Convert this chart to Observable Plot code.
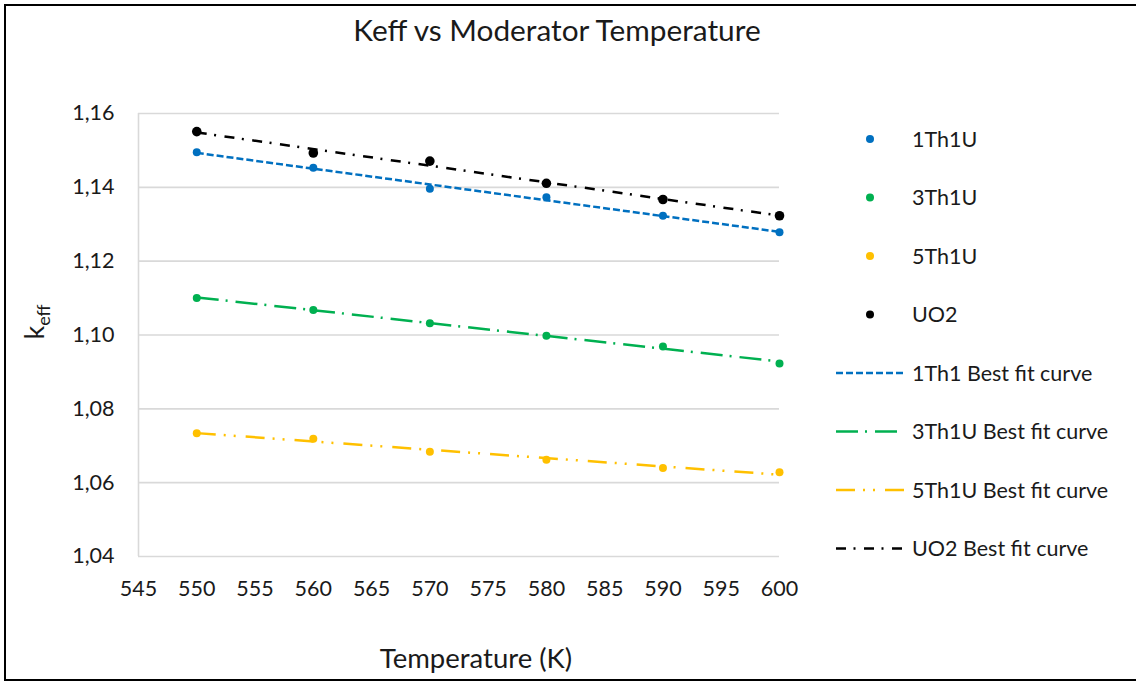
<!DOCTYPE html>
<html>
<head>
<meta charset="utf-8">
<script src="https://cdn.jsdelivr.net/npm/d3@7"></script>
<script src="https://cdn.jsdelivr.net/npm/@observablehq/plot@0.6"></script>
<style>
  html, body { margin: 0; padding: 0; background: #fff; overflow: hidden; }
  #wrap { position: relative; width: 1136px; height: 684px; overflow: hidden; }
  #frame { position: absolute; left: 4px; top: 4px; width: 1150px; height: 677px; border: 2px solid #000; box-sizing: border-box; pointer-events: none; }
</style>
</head>
<body>
<div id="wrap"><div id="frame"></div></div>
<script>
// ---- Data ----
const temps = [550, 560, 570, 580, 590, 600];
const k1Th1U = [1.1495, 1.1453, 1.1396, 1.1373, 1.1323, 1.1278];
const k3Th1U = [1.1100, 1.1068, 1.1032, 1.0998, 1.0969, 1.0923];
const k5Th1U = [1.0734, 1.0719, 1.0684, 1.0662, 1.0640, 1.0628];
const kUO2   = [1.1551, 1.1493, 1.1471, 1.1411, 1.1367, 1.1323];
const seriesNames = ["1Th1U", "3Th1U", "5Th1U", "UO2"];
const fitNames = ["1Th1 Best fit curve", "3Th1U Best fit curve", "5Th1U Best fit curve", "UO2 Best fit curve"];
const xTicks = [545, 550, 555, 560, 565, 570, 575, 580, 585, 590, 595, 600];
const yTicks = [1.04, 1.06, 1.08, 1.10, 1.12, 1.14, 1.16];
const titleText = "Keff vs Moderator Temperature";
const xLabel = "Temperature (K)";

// ---- Styles ----
const colors = ["#0070C0", "#00B050", "#FFC000", "#000000"];
const dashes = ["7,3", "22,7,2,8", "19,8,2,8,2,10", "10,7.5,2,8.5"];
const dotR = [4, 4, 4, 4.8];
const FONT = "Lato, 'Open Sans', sans-serif";

const values = [k1Th1U, k3Th1U, k5Th1U, kUO2];
const data = [];
seriesNames.forEach((s, i) => temps.forEach((t, j) => data.push({series: s, t, k: values[i][j]})));

const locale = d3.formatLocale({decimal: ",", thousands: ".", grouping: [3], currency: ["", ""]});
const fmt = locale.format(".2f");

const plot = Plot.plot({
  width: 1136,
  height: 684,
  marginLeft: 138,
  marginRight: 357,
  marginTop: 113,
  marginBottom: 128,
  style: {fontFamily: FONT, fontSize: "21.5px", color: "#1a1a1a", background: "transparent", overflow: "visible"},
  x: {domain: [545, 600]},
  y: {domain: [1.04, 1.16]},
  marks: [
    Plot.gridY(yTicks, {stroke: "#d9d9d9", strokeOpacity: 1, strokeWidth: 1.6}),
    Plot.ruleX([545], {stroke: "#d9d9d9", strokeWidth: 1.6}),
    Plot.axisX({ticks: xTicks, tickSize: 0, tickPadding: 24, label: null, fontSize: 21.5}),
    Plot.axisY({ticks: yTicks, tickSize: 0, tickPadding: 24, tickFormat: fmt, label: null, fontSize: 21.5}),
    ...seriesNames.map((s, i) => Plot.linearRegressionY(data.filter(d => d.series === s), {
      x: "t", y: "k", ci: 0, stroke: colors[i], strokeWidth: 2.5,
      strokeDasharray: dashes[i], strokeLinecap: "butt"
    })),
    ...seriesNames.map((s, i) => Plot.dot(data.filter(d => d.series === s), {
      x: "t", y: "k", r: dotR[i], fill: colors[i], stroke: "none"
    }))
  ]
});

document.getElementById("wrap").insertBefore(plot, document.getElementById("frame"));
plot.style.position = "absolute";
plot.style.left = "0px";
plot.style.top = "0px";

const svg = d3.select(plot);
const ann = svg.append("g").attr("font-family", FONT).attr("fill", "#1a1a1a");

// Title
ann.append("text").attr("x", 557).attr("y", 41).attr("text-anchor", "middle")
  .attr("font-size", 29.8).text(titleText);

// X axis title
ann.append("text").attr("x", 476).attr("y", 668).attr("text-anchor", "middle")
  .attr("font-size", 27.5).text(xLabel);

// Y axis title k_eff
const yt = ann.append("text").attr("transform", "translate(44,322) rotate(-90)")
  .attr("text-anchor", "middle").attr("font-size", 27);
yt.append("tspan").text("k");
yt.append("tspan").attr("font-size", 18).attr("dy", 6).text("eff");

// Legend
const rowY = i => 139 + i * 58.5;
seriesNames.forEach((s, i) => {
  ann.append("circle").attr("cx", 870).attr("cy", rowY(i)).attr("r", 4).attr("fill", colors[i]);
  ann.append("text").attr("x", 912).attr("y", rowY(i) + 7.5).attr("text-anchor", "start")
    .attr("font-size", 21.5).text(s);
});
fitNames.forEach((s, i) => {
  const y = rowY(i + 4);
  ann.append("line").attr("x1", 836).attr("x2", 904).attr("y1", y).attr("y2", y)
    .attr("stroke", colors[i]).attr("stroke-width", 2.5).attr("stroke-dasharray", dashes[i]);
  ann.append("text").attr("x", 912).attr("y", y + 7.5).attr("text-anchor", "start")
    .attr("font-size", 21.5).text(s);
});
</script>
</body>
</html>
